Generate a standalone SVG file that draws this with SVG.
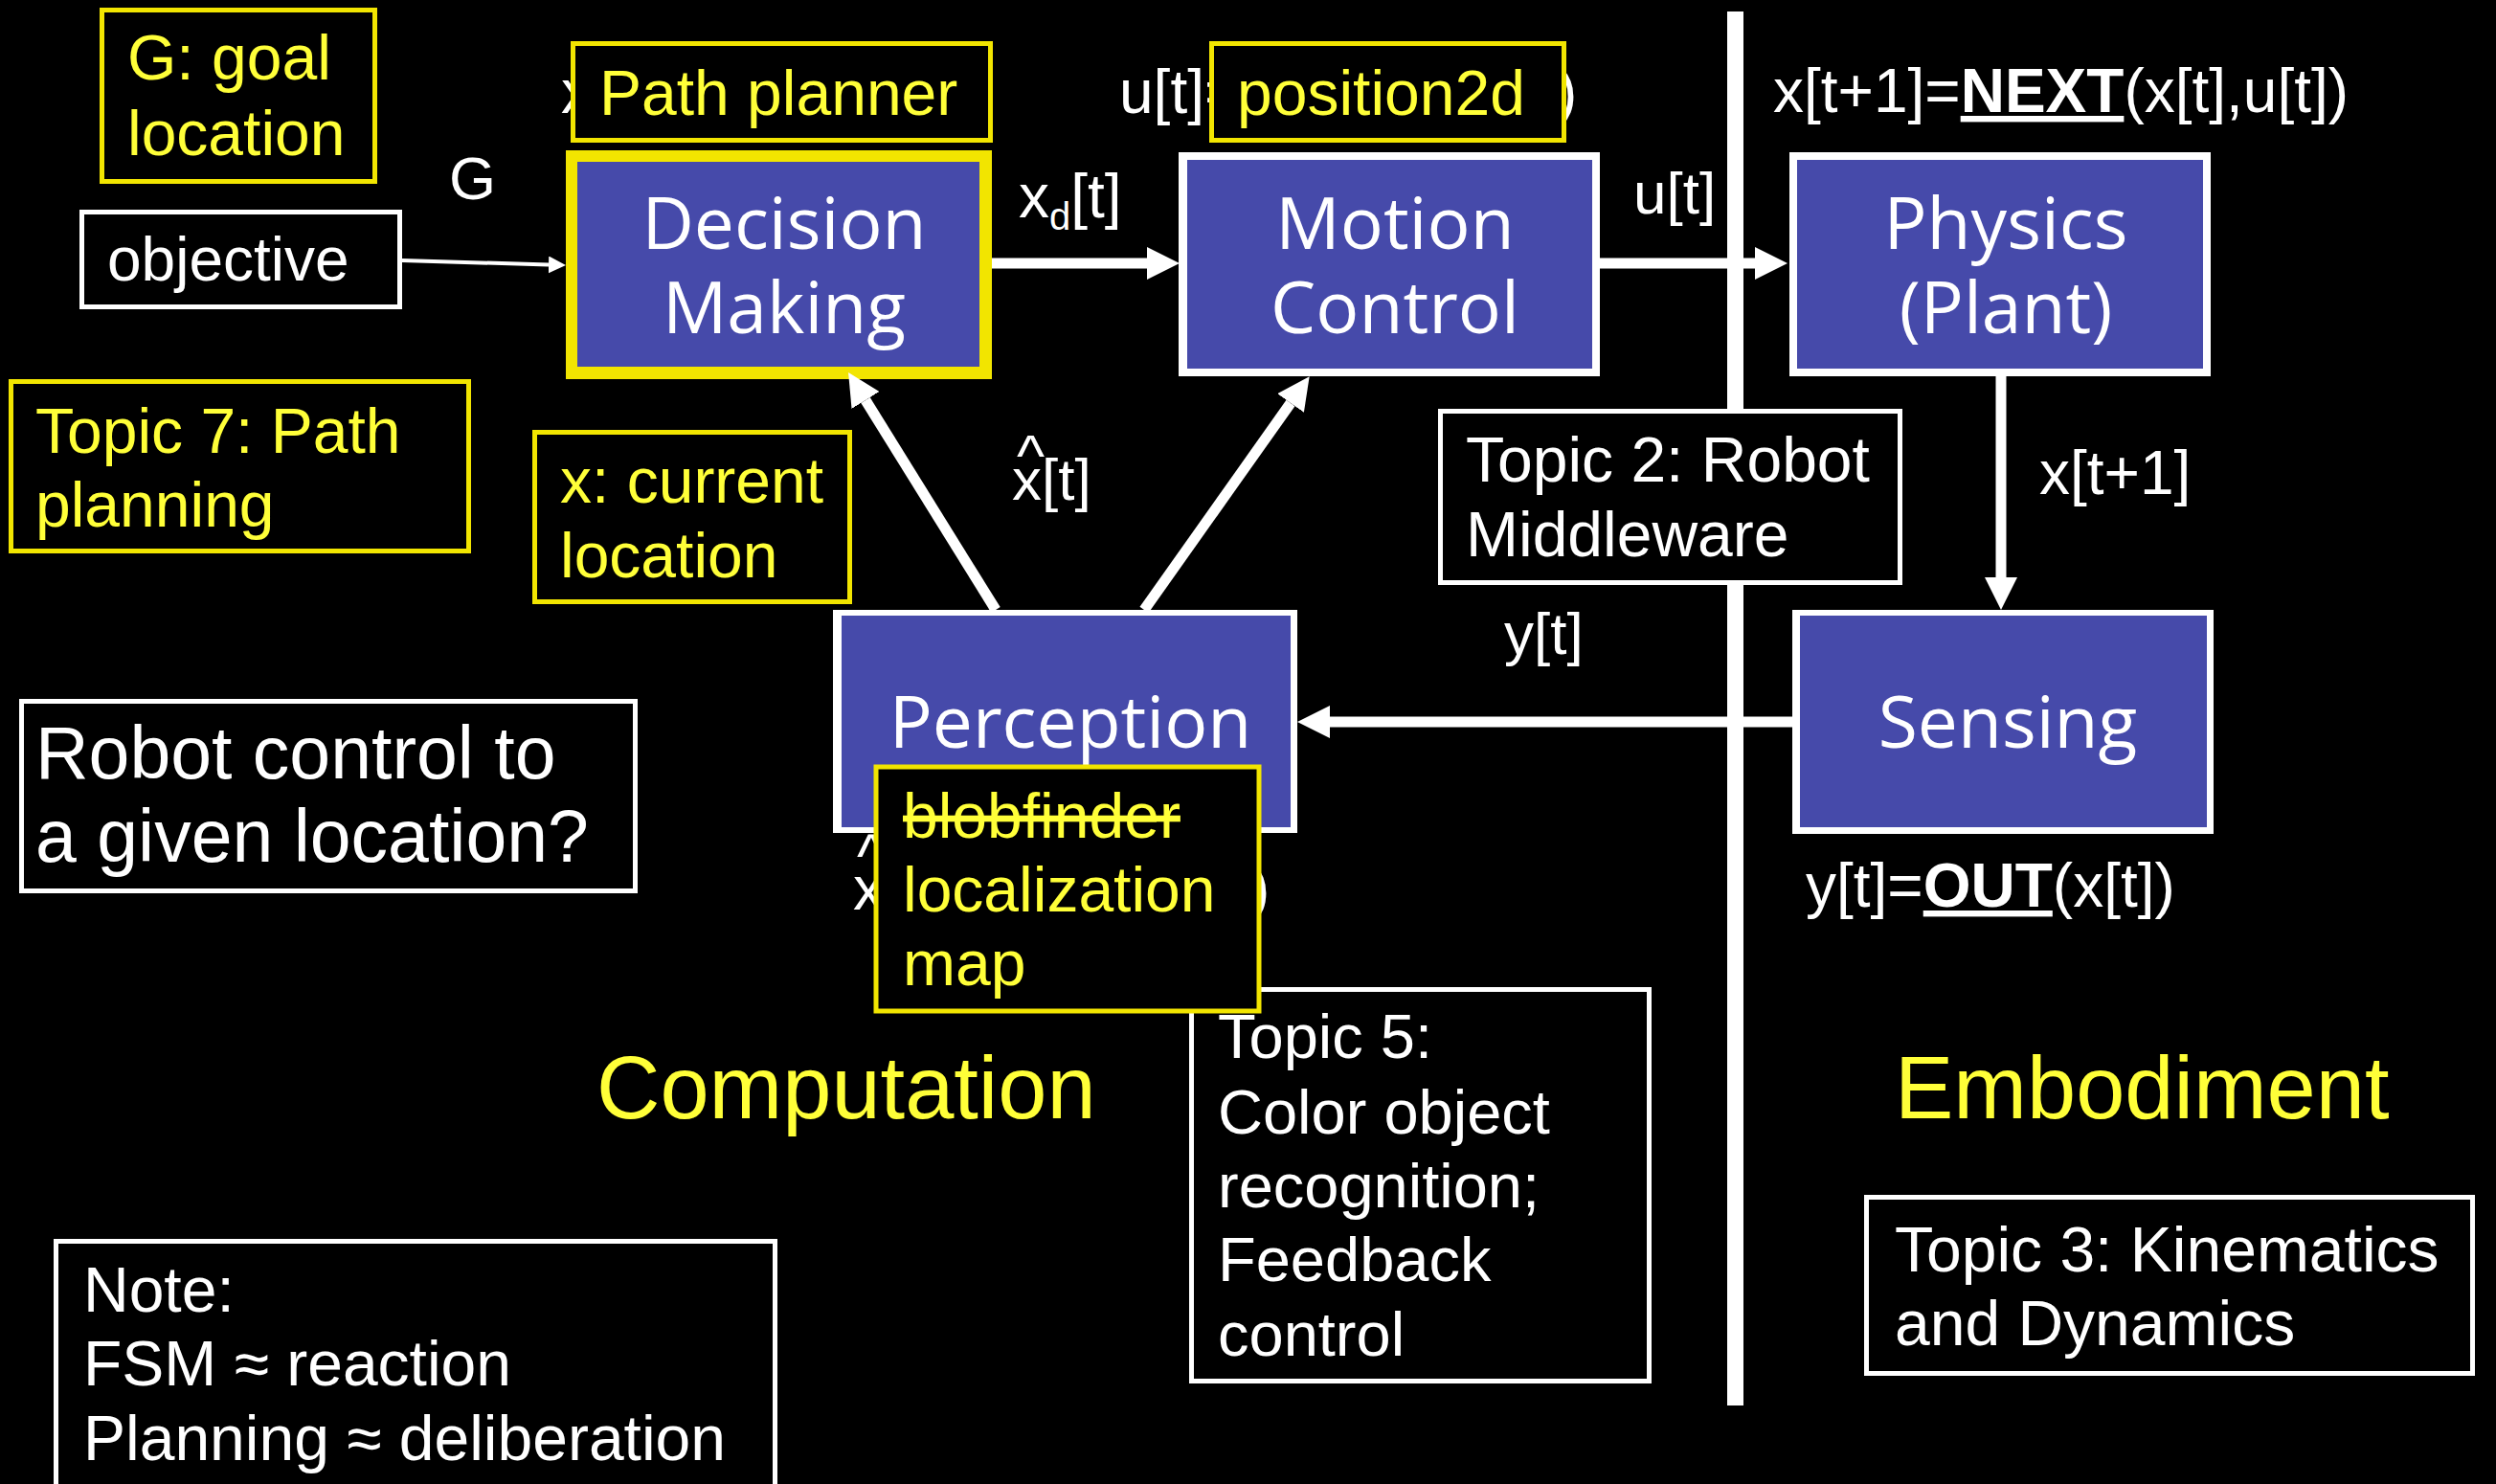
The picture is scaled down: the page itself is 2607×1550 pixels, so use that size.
<svg xmlns="http://www.w3.org/2000/svg" width="2607" height="1550" viewBox="0 0 2607 1550">
  <style>
    .blk { font-family: 'Open Sans', 'DejaVu Sans', sans-serif; font-size: 75px; fill: #ffffff; text-anchor: middle; }
    .lab { font-family: 'Liberation Sans', Arial, sans-serif; fill: #ffffff; }
    .ytx { font-family: 'Liberation Sans', Arial, sans-serif; fill: #ffff38; }
    .ybox { fill: #000000; stroke: #f2e500; stroke-width: 5; }
    .wbox { fill: #000000; stroke: #ffffff; stroke-width: 5; }
    .blue { fill: #464aaa; }
    .frame { fill: #ffffff; }
    .edge { stroke: #ffffff; stroke-width: 11; fill: none; marker-end: url(#ah); }
    .thin { stroke: #ffffff; stroke-width: 4; fill: none; marker-end: url(#ahs); }
  </style>
  <defs>
    <marker id="ah" markerUnits="userSpaceOnUse" markerWidth="34" markerHeight="34" viewBox="0 0 34 34" refX="0" refY="17" orient="auto">
      <path d="M0,0 L34,17 L0,34 z" fill="#ffffff"/>
    </marker>
    <marker id="ahs" markerUnits="userSpaceOnUse" markerWidth="18" markerHeight="18" viewBox="0 0 18 18" refX="0" refY="9" orient="auto">
      <path d="M0,0 L18,9 L0,18 z" fill="#ffffff"/>
    </marker>
  </defs>

  <rect x="0" y="0" width="2607" height="1550" fill="#000000"/>

  <!-- computation / embodiment divider -->
  <rect id="divider" x="1804" y="12" width="17" height="1456" fill="#ffffff"/>

  <!-- equation fragments partly covered by the annotation boxes -->
  <g id="covered-labels" class="lab" font-size="64">
    <text x="586" y="118">x</text>
    <text x="1169" y="118">u[t]=</text>
    <text x="1626" y="118">)</text>
    <text x="895" y="916">^<tspan x="891" y="950">x</tspan></text>
    <text x="1305" y="950">)</text>
  </g>

  <!-- block nodes -->
  <g id="decision-making">
    <rect x="591" y="157" width="445" height="239" fill="#f2e500"/>
    <rect class="blue" x="603" y="169" width="420" height="214"/>
    <text class="blk" x="819" y="260">Decision<tspan x="819" y="348">Making</tspan></text>
  </g>
  <g id="motion-control">
    <rect class="frame" x="1231" y="159" width="440" height="234"/>
    <rect class="blue" x="1240" y="167" width="423" height="218"/>
    <text class="blk" x="1457" y="260">Motion<tspan x="1457" y="348">Control</tspan></text>
  </g>
  <g id="physics">
    <rect class="frame" x="1869" y="159" width="440" height="234"/>
    <rect class="blue" x="1877" y="167" width="424" height="218"/>
    <text class="blk" x="2095" y="260">Physics<tspan x="2095" y="348">(Plant)</tspan></text>
  </g>
  <g id="perception">
    <rect class="frame" x="870" y="637" width="485" height="233"/>
    <rect class="blue" x="879" y="643" width="469" height="221"/>
    <text class="blk" x="1118" y="781">Perception</text>
  </g>
  <g id="sensing">
    <rect class="frame" x="1872" y="637" width="440" height="234"/>
    <rect class="blue" x="1880" y="643" width="425" height="221"/>
    <text class="blk" x="2097" y="781">Sensing</text>
  </g>

  <!-- connectors -->
  <g id="connectors">
    <line class="thin" x1="420" y1="272" x2="573" y2="276.5"/>
    <line class="edge" x1="1036" y1="275" x2="1198" y2="275"/>
    <line class="edge" x1="1671" y1="275" x2="1833" y2="275"/>
    <line class="edge" x1="2090" y1="393" x2="2090" y2="603"/>
    <line class="edge" x1="1872" y1="754" x2="1389" y2="754"/>
    <line class="edge" x1="1040" y1="637" x2="904" y2="418"/>
    <line class="edge" x1="1195" y1="637" x2="1348" y2="421"/>
  </g>

  <!-- signal labels -->
  <g id="signal-labels" class="lab">
    <text x="469" y="208" font-size="63">G</text>
    <text x="1064" y="227" font-size="64">x<tspan font-size="40" dy="13">d</tspan><tspan dy="-13">[t]</tspan></text>
    <text x="1706" y="223" font-size="62">u[t]</text>
    <text x="1852" y="117" font-size="64">x[t+1]=<tspan font-weight="bold" text-decoration="underline">NEXT</tspan>(x[t],u[t])</text>
    <text x="2130" y="516" font-size="64">x[t+1]</text>
    <text x="1571" y="683" font-size="62">y[t]</text>
    <text x="1062" y="497" font-size="62">^<tspan x="1057" y="522">x[t]</tspan></text>
    <text x="1886" y="947" font-size="64">y[t]=<tspan font-weight="bold" text-decoration="underline">OUT</tspan>(x[t])</text>
  </g>

  <!-- white note boxes -->
  <g id="objective">
    <rect class="wbox" x="85.5" y="221.5" width="332" height="99"/>
    <text class="lab" x="112" y="293" font-size="64">objective</text>
  </g>
  <g id="robot-control-question">
    <rect class="wbox" x="22.5" y="732.5" width="641" height="198"/>
    <text class="lab" x="37" y="813" font-size="77">Robot control to<tspan x="37" y="900">a given location?</tspan></text>
  </g>
  <g id="topic-2">
    <rect class="wbox" x="1504.5" y="429.5" width="480" height="179"/>
    <text class="lab" x="1531" y="503" font-size="66">Topic 2: Robot<tspan x="1531" y="581">Middleware</tspan></text>
  </g>
  <g id="topic-5">
    <rect class="wbox" x="1244.5" y="1033.5" width="478" height="409"/>
    <text class="lab" x="1272" y="1105" font-size="65">Topic 5:<tspan x="1272" y="1184">Color object</tspan><tspan x="1272" y="1261">recognition;</tspan><tspan x="1272" y="1338">Feedback</tspan><tspan x="1272" y="1416">control</tspan></text>
  </g>
  <g id="topic-3">
    <rect class="wbox" x="1949.5" y="1250.5" width="633" height="184" stroke-width="7"/>
    <text class="lab" x="1979" y="1328" font-size="66">Topic 3: Kinematics<tspan x="1979" y="1405">and Dynamics</tspan></text>
  </g>
  <g id="note">
    <rect class="wbox" x="58.5" y="1296.5" width="751" height="300"/>
    <text class="lab" x="87" y="1370" font-size="66">Note:<tspan x="87" y="1447">FSM ≈ reaction</tspan><tspan x="87" y="1525">Planning ≈ deliberation</tspan></text>
  </g>

  <!-- yellow annotation boxes -->
  <g id="goal-location">
    <rect class="ybox" x="106.5" y="10.5" width="285" height="179"/>
    <text class="ytx" x="133" y="83" font-size="66">G: goal<tspan x="133" y="162">location</tspan></text>
  </g>
  <g id="path-planner">
    <rect class="ybox" x="598.5" y="45.5" width="436" height="101"/>
    <text class="ytx" x="626" y="120" font-size="66">Path planner</text>
  </g>
  <g id="position2d">
    <rect class="ybox" x="1265.5" y="45.5" width="368" height="101"/>
    <text class="ytx" x="1292" y="120" font-size="66">position2d</text>
  </g>
  <g id="topic-7">
    <rect class="ybox" x="11.5" y="398.5" width="478" height="177"/>
    <text class="ytx" x="37" y="473" font-size="66">Topic 7: Path<tspan x="37" y="550">planning</tspan></text>
  </g>
  <g id="current-location">
    <rect class="ybox" x="558.5" y="451.5" width="329" height="177"/>
    <text class="ytx" x="585" y="525" font-size="66">x: current<tspan x="585" y="603">location</tspan></text>
  </g>
  <g id="perception-drivers">
    <rect class="ybox" x="915" y="801" width="400" height="255" stroke-width="6"/>
    <text class="ytx" x="943" y="875" font-size="66"><tspan text-decoration="line-through">blobfinder</tspan><tspan x="943" y="952">localization</tspan><tspan x="943" y="1029">map</tspan></text>
  </g>

  <!-- region titles -->
  <text class="ytx" x="623" y="1168" font-size="92">Computation</text>
  <text class="ytx" x="1979" y="1168" font-size="92">Embodiment</text>
</svg>
